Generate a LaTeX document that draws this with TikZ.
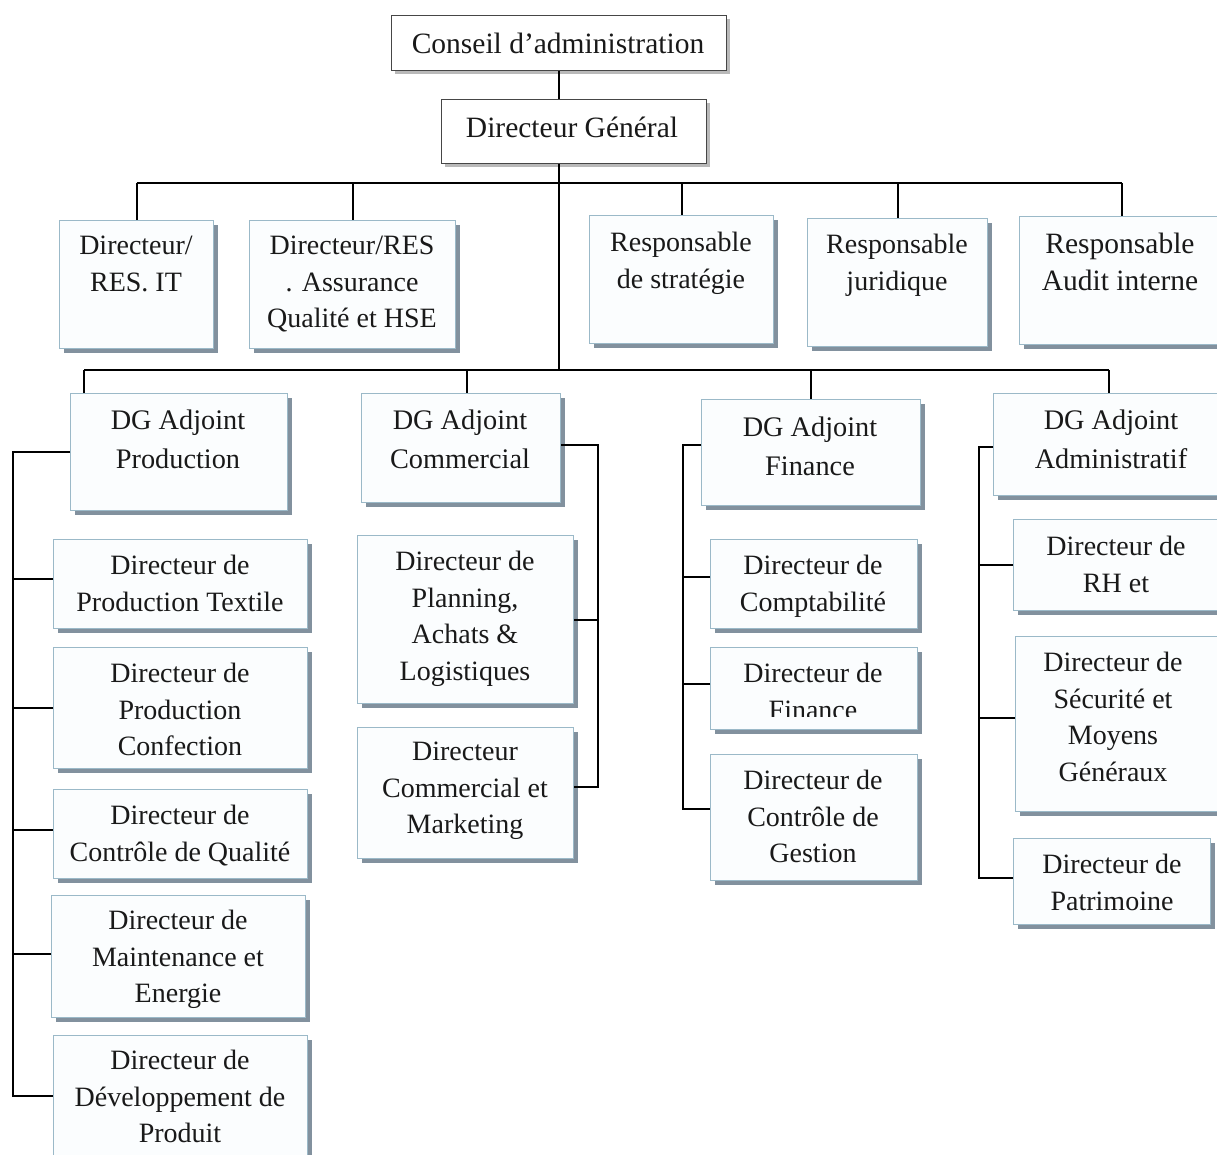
\documentclass[tikz,border=0pt]{standalone}
\usepackage{fontspec}
\setmainfont{Liberation Serif}
\usetikzlibrary{shadows}
\definecolor{boxborder}{RGB}{155,185,200}
\definecolor{boxfill}{RGB}{251,253,254}
\definecolor{boxshadow}{RGB}{130,145,158}
\definecolor{topborder}{RGB}{70,70,70}
\tikzset{
  orgbox/.style={draw=boxborder, line width=1.3pt, fill=boxfill,
    general shadow={fill=boxshadow, shadow xshift=4pt, shadow yshift=-4pt}},
  topbox/.style={draw=topborder, line width=1.3pt, fill=white,
    general shadow={fill=gray!55, shadow xshift=3pt, shadow yshift=-3pt}},
  lbl/.style={anchor=north, inner sep=0pt, align=center, text=black!90,
    font=\fontsize{28}{36.5}\selectfont},
  lblbig/.style={lbl, font=\fontsize{29.5}{37}\selectfont},
  lbldg/.style={lbl, font=\fontsize{28.3}{39}\selectfont},
  link/.style={line width=1.8pt, black},
}
\newcommand\orgnode[6]{%
  \node[#2, anchor=north west, inner sep=0pt,
        minimum width={(#5-#3)*1pt}, minimum height={(#6-#4)*1pt}] (#1) at (#3,#4) {};
}
\newcommand\orglabel[5]{%
  \node[#2] (#1-t) at (#3,{#4-10}) {#5};
}
\begin{document}
\begin{tikzpicture}[x=1pt,y=-1pt]
\useasboundingbox[fill=white] (0,0) rectangle (1217,1155);

% ---- boxes ----
\orgnode{conseil}{topbox}{391}{15}{726}{70}
\orgnode{dg}{topbox}{441}{99}{706}{163}

\orgnode{it}{orgbox}{59}{220}{213}{348}
\orgnode{qhse}{orgbox}{249}{220}{455}{348}
\orgnode{strat}{orgbox}{589}{215}{773}{343}
\orgnode{jur}{orgbox}{807}{218}{987}{346}
\orgnode{audit}{orgbox}{1019}{216}{1223}{344}

\orgnode{prod}{orgbox}{70}{393}{287}{510}
\orgnode{com}{orgbox}{361}{393}{560}{502}
\orgnode{fin}{orgbox}{701}{399}{920}{505}
\orgnode{adm}{orgbox}{993}{393}{1223}{495}

\orgnode{textile}{orgbox}{53}{539}{307}{628}
\orgnode{confection}{orgbox}{53}{647}{307}{768}
\orgnode{qualite}{orgbox}{53}{789}{307}{878}
\orgnode{maint}{orgbox}{51}{895}{305}{1017}
\orgnode{dev}{orgbox}{53}{1035}{307}{1165}

\orgnode{planning}{orgbox}{357}{535}{573}{703}
\orgnode{marketing}{orgbox}{357}{727}{573}{858}

\orgnode{compta}{orgbox}{710}{539}{917}{628}
\orgnode{finance}{orgbox}{710}{647}{917}{729}
\orgnode{gestion}{orgbox}{710}{754}{917}{880}

\orgnode{rh}{orgbox}{1013}{519}{1223}{610}
\orgnode{secu}{orgbox}{1015}{636}{1223}{811}
\orgnode{patri}{orgbox}{1013}{838}{1210}{924}

% ---- labels ----
\orglabel{conseil}{lblbig}{558}{43}{Conseil d’administration}
\orglabel{dg}{lblbig}{572}{127}{Directeur Général}

\orglabel{it}{lbl}{136}{246}{Directeur/\\RES. IT}
\orglabel{qhse}{lbl}{352}{246}{Directeur/RES\\. Assurance\\Qualité et HSE}
\orglabel{strat}{lbl}{681}{242}{Responsable\\de stratégie}
\orglabel{jur}{lbl}{897}{244}{Responsable\\juridique}
\orglabel{audit}{lblbig}{1120}{243}{Responsable\\Audit interne}

\orglabel{prod}{lbldg}{178}{420}{DG Adjoint\\Production}
\orglabel{com}{lbldg}{460}{420}{DG Adjoint\\Commercial}
\orglabel{fin}{lbldg}{810}{427}{DG Adjoint\\Finance}
\orglabel{adm}{lbldg}{1111}{420}{DG Adjoint\\Administratif}

\orglabel{textile}{lbl}{180}{565}{Directeur de\\Production Textile}
\orglabel{confection}{lbl}{180}{673}{Directeur de\\Production\\Confection}
\orglabel{qualite}{lbl}{180}{815}{Directeur de\\Contrôle de Qualité}
\orglabel{maint}{lbl}{178}{920}{Directeur de\\Maintenance et\\Energie}
\orglabel{dev}{lbl}{180}{1060}{Directeur de\\Développement de\\Produit}

\orglabel{planning}{lbl}{465}{561}{Directeur de\\Planning,\\Achats \&\\Logistiques}
\orglabel{marketing}{lbl}{465}{752}{Directeur\\Commercial et\\Marketing}

\orglabel{compta}{lbl}{813}{565}{Directeur de\\Comptabilité}
\begin{scope}
  \clip (711,648) rectangle (916,716);
  \orglabel{finance}{lbl}{813}{673}{Directeur de\\Finance}
\end{scope}
\orglabel{gestion}{lbl}{813}{780}{Directeur de\\Contrôle de\\Gestion}

\orglabel{rh}{lbl}{1116}{546}{Directeur de\\RH et}
\orglabel{secu}{lbl}{1113}{662}{Directeur de\\Sécurité et\\Moyens\\Généraux}
\orglabel{patri}{lbl}{1112}{864}{Directeur de\\Patrimoine}

% ---- connectors ----
\coordinate (busA) at (559,183);
\coordinate (busB) at (559,370);
\coordinate (dprod) at (84,370);
\coordinate (dcom) at (467,370);
\coordinate (vprod) at (13,0);
\coordinate (vcom) at (598,0);
\coordinate (vfin) at (683,0);
\coordinate (vadm) at (979,0);

\draw[link] (conseil.south) -- (conseil.south |- dg.north);
\draw[link] (dg.south -| busB) -- (busB);
\draw[link] (busA -| it.north) -- (busA -| audit.north);
\foreach \n in {it,qhse,strat,jur,audit} \draw[link] (busA -| \n.north) -- (\n.north);

\draw[link] (dprod) -- (busB -| adm.north);
\draw[link] (dprod) -- (dprod |- prod.north);
\draw[link] (dcom) -- (dcom |- com.north);
\draw[link] (busB -| fin.north) -- (fin.north);
\draw[link] (busB -| adm.north) -- (adm.north);

% production
\draw[link] (prod.west) -- (prod.west -| vprod) |- ([yshift=5pt]dev.west);
\draw[link] ([yshift=5pt]textile.west) -- ([yshift=5pt]textile.west -| vprod);
\draw[link] (confection.west) -- (confection.west -| vprod);
\draw[link] ([yshift=4pt]qualite.west) -- ([yshift=4pt]qualite.west -| vprod);
\draw[link] ([yshift=3pt]maint.west) -- ([yshift=3pt]maint.west -| vprod);

% commercial
\draw[link] ([yshift=3pt]com.east) -- ([yshift=3pt]com.east -| vcom) |- ([yshift=6pt]marketing.east);
\draw[link] (planning.east) -- (planning.east -| vcom);

% finance
\draw[link] ([yshift=8pt]fin.west) -- ([yshift=8pt]fin.west -| vfin) |- ([yshift=9pt]gestion.west);
\draw[link] ([yshift=7pt]compta.west) -- ([yshift=7pt]compta.west -| vfin);
\draw[link] ([yshift=5pt]finance.west) -- ([yshift=5pt]finance.west -| vfin);

% administratif
\draw[link] ([yshift=-2pt]adm.west) -- ([yshift=-2pt]adm.west -| vadm) |- ([yshift=4pt]patri.west);
\draw[link] (rh.west) -- (rh.west -| vadm);
\draw[link] ([yshift=6pt]secu.west) -- ([yshift=6pt]secu.west -| vadm);
\end{tikzpicture}
\end{document}
